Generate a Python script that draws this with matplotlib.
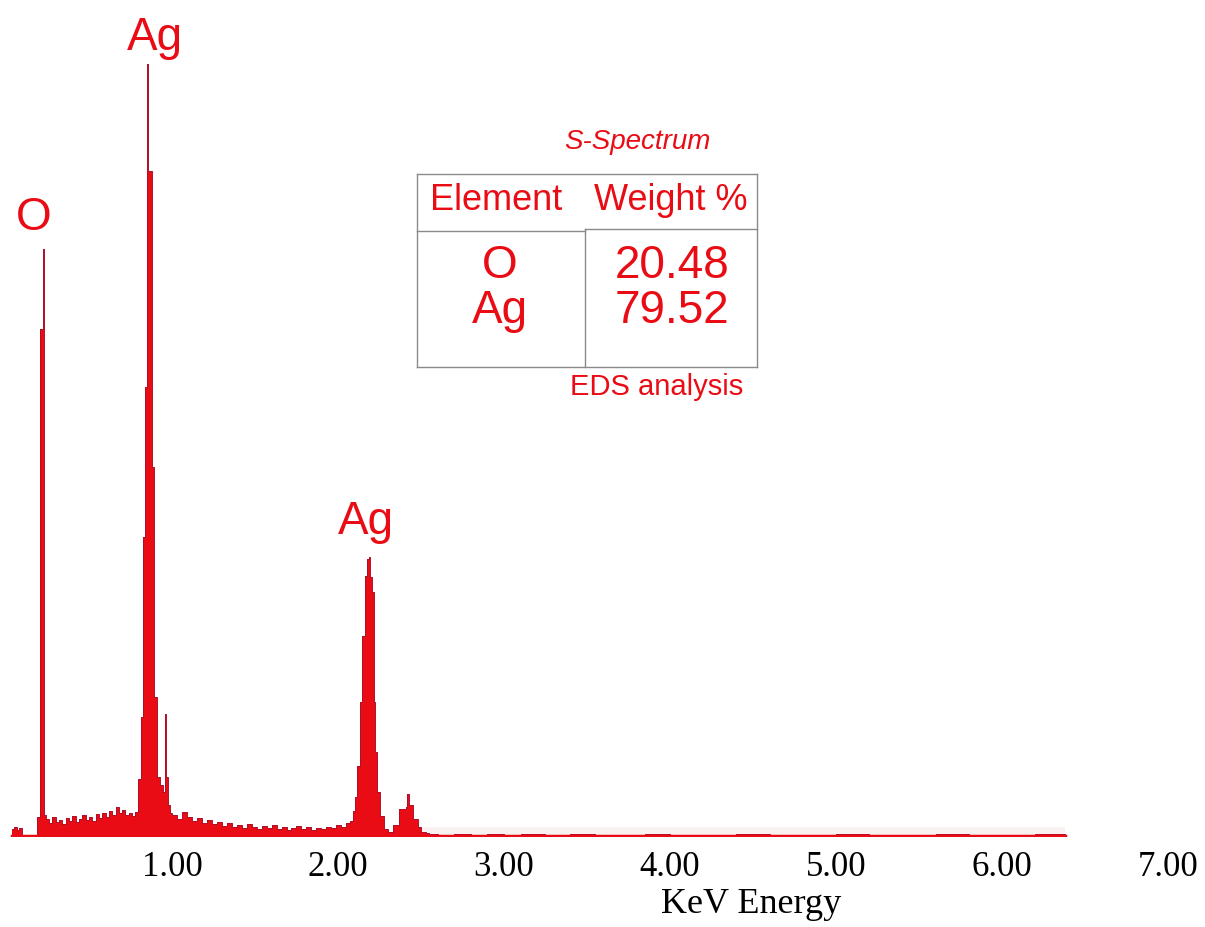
import numpy as np
import matplotlib
matplotlib.use("Agg")
import matplotlib.pyplot as plt
from matplotlib.lines import Line2D

# spectrum: energy (step start) and counts
energy = [0.036, 0.050, 0.066, 0.080, 0.096, 0.187, 0.205, 0.223, 0.232,
          0.24, 0.26, 0.28, 0.30, 0.32, 0.34, 0.36, 0.38, 0.40, 0.42, 0.44,
          0.46, 0.48, 0.50, 0.52, 0.54, 0.56, 0.58, 0.60, 0.62, 0.64, 0.66,
          0.68, 0.70, 0.72, 0.74, 0.76, 0.78,
          0.795, 0.813, 0.825, 0.837, 0.849, 0.855, 0.878, 0.892, 0.910,
          0.928, 0.946, 0.955, 0.961, 0.976, 0.990,
          1.00, 1.03, 1.06, 1.09, 1.12, 1.15, 1.18, 1.21, 1.24, 1.27, 1.30,
          1.33, 1.36, 1.39, 1.42, 1.45, 1.48, 1.51, 1.54, 1.57, 1.60, 1.63,
          1.66, 1.69, 1.72, 1.75, 1.78, 1.81, 1.84, 1.87, 1.90, 1.93, 1.96,
          1.99, 2.02, 2.05,
          2.070, 2.090, 2.105, 2.114, 2.133, 2.145, 2.163, 2.175, 2.184,
          2.190, 2.205, 2.214, 2.226, 2.238, 2.255, 2.275, 2.30,
          2.33, 2.37, 2.41, 2.418, 2.428, 2.45, 2.48, 2.50, 2.53,
          2.55, 2.60, 2.70, 2.80, 2.90, 3.00, 3.10, 3.25, 3.40, 3.55, 3.70,
          3.85, 4.00, 4.20, 4.40, 4.60, 4.80, 5.00, 5.20, 5.40, 5.60, 5.80,
          6.00, 6.20, 6.38]
counts = [8, 10, 7, 9, 2, 20, 508, 588, 22,
          18, 14, 20, 15, 17, 13, 19, 16, 21, 15, 18,
          22, 17, 20, 16, 23, 19, 24, 20, 26, 22, 30,
          24, 27, 22, 24, 21, 25,
          58, 120, 300, 450, 773, 666, 370, 140, 60,
          52, 45, 123, 60, 32, 24,
          22, 18, 25, 20, 16, 19, 14, 17, 13, 15, 11,
          14, 10, 12, 9, 13, 10, 8, 11, 9, 12, 8,
          10, 7, 9, 11, 8, 10, 7, 9, 8, 10, 9,
          12, 10, 14,
          16, 26, 40, 71, 135, 201, 261, 278, 280,
          260, 245, 135, 85, 45, 21, 8, 5,
          12, 28, 30, 43, 32, 18, 10, 5, 4,
          3, 2, 3, 2, 3, 2, 3, 2, 3, 2, 2,
          3, 2, 2, 3, 2, 2, 3, 2, 2, 3, 2,
          2, 3, 0]

tick_pos = [1, 2, 3, 4, 5, 6, 7]
tick_labels = ["1.00", "2.00", "3.00", "4.00", "5.00", "6.00", "7.00"]

peak_labels = ["O", "Ag", "Ag"]
peak_energy = [0.165, 0.900, 2.170]
peak_height = [620, 800, 316]

elements = ["O", "Ag"]
weights = ["20.48", "79.52"]

RED = "#ea0c14"
W, H = 1205, 928


def fx(px):
    return px / W


def fy(py):
    return 1 - py / H


fig = plt.figure(figsize=(W / 100, H / 100), dpi=100)
ax = fig.add_axes([0, 1 - 838 / H, 1, 838 / H])
ax.set_xlim(-0.036, 7.223)
ax.set_ylim(0, 838)

# faint haze above the flat tail
ax.fill_between([2.5, 6.38], 0, 10, color="#faf1f1", lw=0)

ax.fill_between(energy, 0, counts, step="post", color=RED, lw=0)
ax.step(energy, counts, where="post", color="#b0102a", lw=0.7)
ax.plot([0.036, 6.38], [1.2, 1.2], color=RED, lw=2.5)

for sp in ax.spines.values():
    sp.set_visible(False)
ax.set_yticks([])
ax.set_xticks(tick_pos)
ax.set_xticklabels(tick_labels, family="Liberation Serif", fontsize=25)
ax.tick_params(axis="x", length=0, pad=9)

for lab, e, h in zip(peak_labels, peak_energy, peak_height):
    ax.text(e, h, lab, color=RED, fontsize=33, ha="center", va="center",
            family="Liberation Sans")

fig.text(fx(751), fy(905), "KeV Energy", family="Liberation Serif",
         fontsize=26, ha="center", va="center")

# EDS table
def hline(x0, x1, y):
    fig.add_artist(Line2D([fx(x0), fx(x1)], [fy(y), fy(y)], color="#8a8a8a",
                          lw=1, transform=fig.transFigure))


def vline(x, y0, y1):
    fig.add_artist(Line2D([fx(x), fx(x)], [fy(y0), fy(y1)], color="#8a8a8a",
                          lw=1, transform=fig.transFigure))


hline(417, 757, 175)
hline(417, 757, 368)
hline(417, 585, 232)
hline(585, 757, 230)
vline(417, 175, 368)
vline(757, 175, 368)
vline(585, 230, 368)

fig.text(fx(637), fy(142), "S-Spectrum", color=RED, fontsize=20,
         style="italic", ha="center", va="center", family="Liberation Sans")
fig.text(fx(496), fy(201), "Element", color=RED, fontsize=26,
         ha="center", va="center", family="Liberation Sans")
fig.text(fx(671), fy(201), "Weight %", color=RED, fontsize=26,
         ha="center", va="center", family="Liberation Sans")
for i, (el, wt) in enumerate(zip(elements, weights)):
    y = 266 + i * 45
    fig.text(fx(500), fy(y), el, color=RED, fontsize=33,
             ha="center", va="center", family="Liberation Sans")
    fig.text(fx(672), fy(y), wt, color=RED, fontsize=33,
             ha="center", va="center", family="Liberation Sans")
fig.text(fx(657), fy(387), "EDS analysis", color=RED, fontsize=21,
         ha="center", va="center", family="Liberation Sans")

fig.savefig("out.png", dpi=100, facecolor="white")
